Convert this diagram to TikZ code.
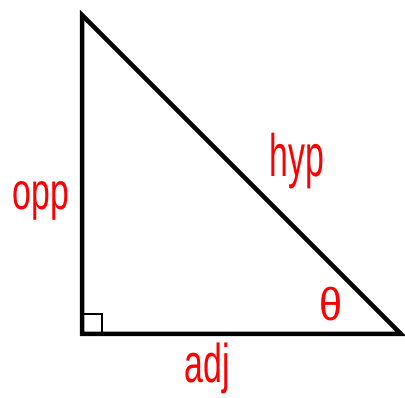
\documentclass[tikz,border=0pt]{standalone}
\usepackage{fontspec}
\setmainfont{Liberation Sans}
\begin{document}
\begin{tikzpicture}[x=1pt,y=-1pt,
  edge/.style={line width=4.5pt,line join=miter,line cap=rect},
  lbl/.style={text=red,inner sep=0pt,anchor=base,font=\fontsize{52}{52}\selectfont}]
\useasboundingbox (0,0) rectangle (405,398);
\coordinate (T) at (82,15);
\coordinate (B) at (82,334);
\coordinate (R) at (401,334);
\draw[edge] (T) -- (B) -- (R) -- cycle;
\coordinate (S1) at (82,314);
\coordinate (S2) at (102,314);
\coordinate (S3) at (102,334);
\draw[line width=2pt] (S1) -- (S2) -- (S3);
\node[lbl] (opp) at (41,210) {\scalebox{0.65}[1]{opp}};
\node[lbl] (hyp) at (297,177) {\scalebox{0.65}[1.15]{hyp}};
\node[lbl] (adj) at (207,383) {\scalebox{0.65}[1.05]{adj}};
\node[lbl,font=\fontsize{46}{46}\selectfont] (theta) at (331,321) {\scalebox{0.9}[1]{θ}};
\end{tikzpicture}
\end{document}
